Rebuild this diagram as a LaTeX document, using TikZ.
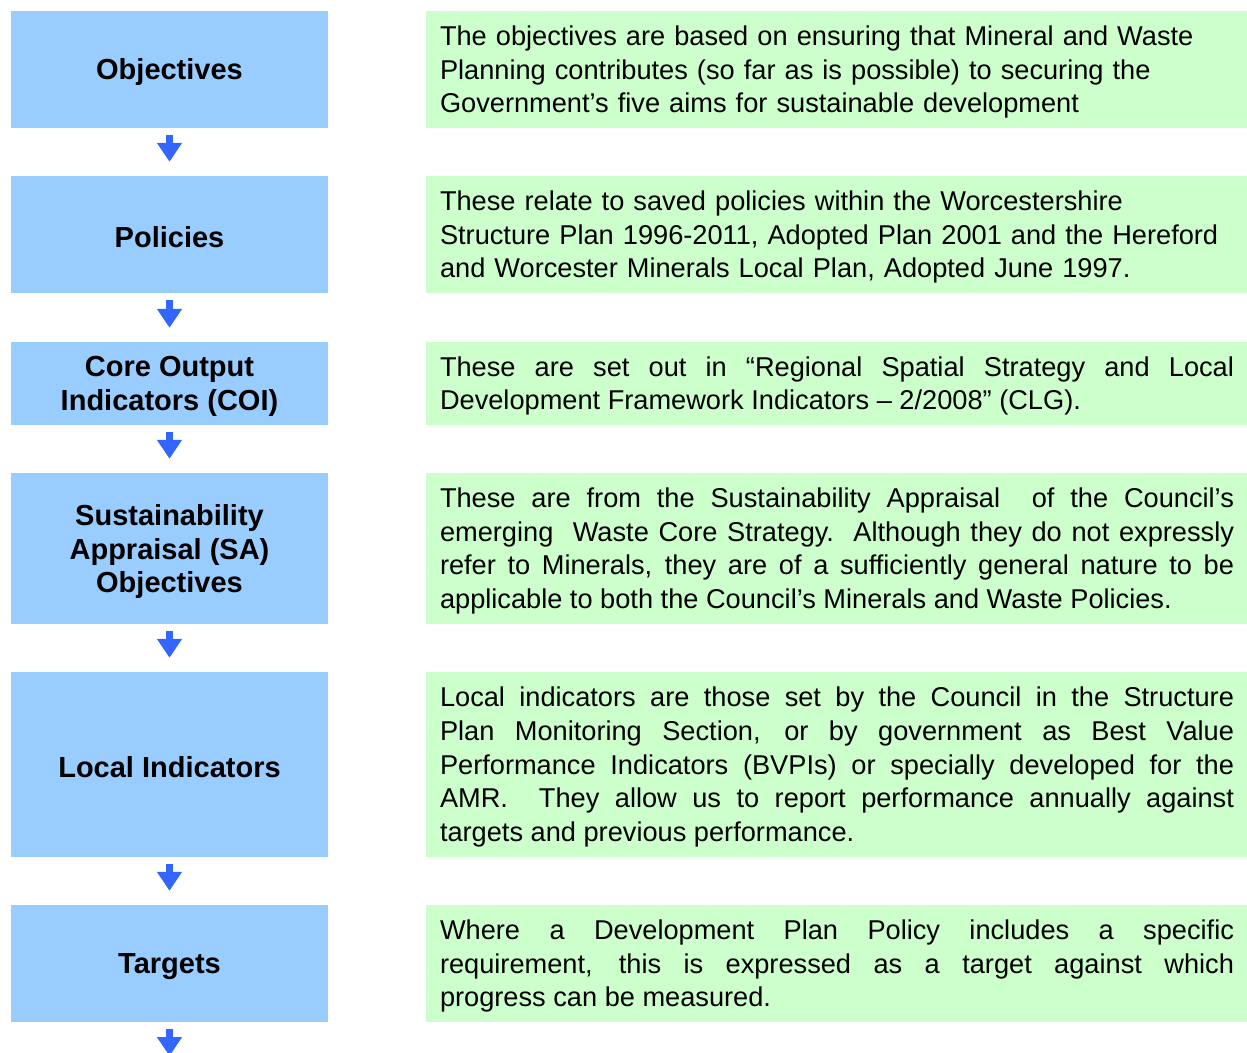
\documentclass[tikz,border=0pt]{standalone}
\usepackage{fontspec}
\setmainfont{Liberation Sans}
\usetikzlibrary{arrows.meta}
\definecolor{stageblue}{HTML}{99CCFF}
\definecolor{notegreen}{HTML}{CCFFCC}
\definecolor{arrowblue}{HTML}{3366FF}
\begin{document}
\begin{tikzpicture}[x=1pt,y=-1pt,
  stage/.style={rectangle, fill=stageblue, inner sep=0pt, minimum width=317pt},
  stagetext/.style={inner sep=0pt, align=center, yshift=-3pt,
    font=\fontsize{29}{33.5}\selectfont\bfseries},
  note/.style={rectangle, fill=notegreen, inner sep=0pt, minimum width=821pt},
  notetext/.style={inner sep=0pt, text width=794pt, xshift=0.5pt, yshift=-2.5pt,
    font=\fontsize{27.2}{33.6}\selectfont,
    execute at begin node={\hyphenpenalty=10000 }},
  flow/.style={draw=arrowblue, line width=7pt, shorten <=7pt, shorten >=14pt,
    -{Triangle[length=19pt,width=24pt]}}]
\useasboundingbox (0,0) rectangle (1247,1052);

% left column: stages
\node[stage, minimum height=117pt] (s1) at (169.5,69.5) {};
\node[stage, minimum height=117pt] (s2) at (169.5,234.5) {};
\node[stage, minimum height=83pt]  (s3) at (169.5,383.5) {};
\node[stage, minimum height=151pt] (s4) at (169.5,548.5) {};
\node[stage, minimum height=185pt] (s5) at (169.5,764.5) {};
\node[stage, minimum height=117pt] (s6) at (169.5,963.5) {};
\coordinate (tail) at (169.5,1070);

\node[stagetext] (s1t) at (s1.center) {Objectives};
\node[stagetext] (s2t) at (s2.center) {Policies};
\node[stagetext] (s3t) at (s3.center) {Core Output\\Indicators (COI)};
\node[stagetext] (s4t) at (s4.center) {Sustainability\\Appraisal (SA)\\Objectives};
\node[stagetext] (s5t) at (s5.center) {Local Indicators};
\node[stagetext] (s6t) at (s6.center) {Targets};

% right column: descriptions
\node[note, minimum height=117pt] (n1) at (836.5,69.5) {};
\node[note, minimum height=117pt] (n2) at (836.5,234.5) {};
\node[note, minimum height=83pt]  (n3) at (836.5,383.5) {};
\node[note, minimum height=151pt] (n4) at (836.5,548.5) {};
\node[note, minimum height=185pt] (n5) at (836.5,764.5) {};
\node[note, minimum height=117pt] (n6) at (836.5,963.5) {};

\node[notetext, align=left] (n1t) at (n1.center)
  {The objectives are based on ensuring that Mineral and Waste\\
   Planning contributes (so far as is possible) to securing the\\
   Government’s five aims for sustainable development};
\node[notetext, align=left] (n2t) at (n2.center)
  {These relate to saved policies within the Worcestershire\\
   Structure Plan 1996-2011, Adopted Plan 2001 and the Hereford\\
   and Worcester Minerals Local Plan, Adopted June 1997.};
\node[notetext, align=justify] (n3t) at (n3.center)
  {These are set out in “Regional Spatial Strategy and Local\linebreak
   Development Framework Indicators – 2/2008” (CLG).};
\node[notetext, align=justify] (n4t) at (n4.center)
  {These are from the Sustainability Appraisal\ \ of the Council’s\linebreak
   emerging\ \ Waste Core Strategy.\ \ Although they do not expressly\linebreak
   refer to Minerals, they are of a sufficiently general nature to be\linebreak
   applicable to both the Council’s Minerals and Waste Policies.};
\node[notetext, align=justify] (n5t) at (n5.center)
  {Local indicators are those set by the Council in the Structure\linebreak
   Plan Monitoring Section, or by government as Best Value\linebreak
   Performance Indicators (BVPIs) or specially developed for the\linebreak
   AMR.\ \ They allow us to report performance annually against\linebreak
   targets and previous performance.};
\node[notetext, align=justify] (n6t) at (n6.center)
  {Where a Development Plan Policy includes a specific\linebreak
   requirement, this is expressed as a target against which\linebreak
   progress can be measured.};

% flow arrows between stages
\draw[flow] (s1.south) -- (s2.north);
\draw[flow] (s2.south) -- (s3.north);
\draw[flow] (s3.south) -- (s4.north);
\draw[flow] (s4.south) -- (s5.north);
\draw[flow] (s5.south) -- (s6.north);
\draw[flow] (s6.south) -- (tail);
\end{tikzpicture}
\end{document}
